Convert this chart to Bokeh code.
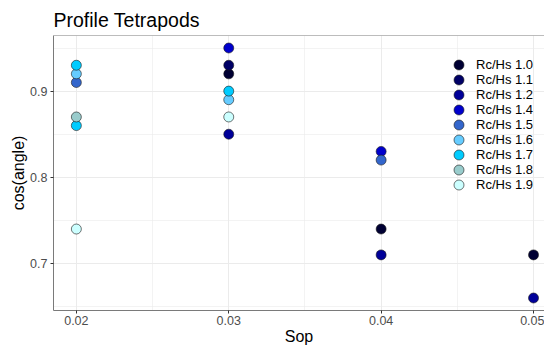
from bokeh.plotting import figure
from bokeh.models import ColumnDataSource, FixedTicker, Span, Range1d, Legend, LegendItem
from bokeh.embed import file_html
from bokeh.resources import INLINE

# Profile tetrapods: cos(angle) against wave steepness Sop, one colour per Rc/Hs
ratios = ["1.0", "1.1", "1.2", "1.4", "1.5", "1.6", "1.7", "1.8", "1.9"]
colors = ["#000033", "#000066", "#000099", "#0000CC", "#3366CC",
          "#66CCFF", "#00CCFF", "#99CCCC", "#CCFFFF"]

sop = [0.03, 0.04, 0.05,
       0.03,
       0.03, 0.04, 0.05,
       0.03, 0.04,
       0.02, 0.04,
       0.02, 0.03,
       0.02, 0.02, 0.03,
       0.02,
       0.02, 0.03]
cos_angle = [0.92, 0.74, 0.71,
             0.93,
             0.85, 0.71, 0.66,
             0.95, 0.83,
             0.91, 0.82,
             0.92, 0.89,
             0.93, 0.86, 0.90,
             0.87,
             0.74, 0.87]
rc_hs = ["1.0", "1.0", "1.0",
         "1.1",
         "1.2", "1.2", "1.2",
         "1.4", "1.4",
         "1.5", "1.5",
         "1.6", "1.6",
         "1.7", "1.7", "1.7",
         "1.8",
         "1.9", "1.9"]

x_ticks = [0.02, 0.03, 0.04, 0.05]
y_ticks = [0.7, 0.8, 0.9]

FONT = "Liberation Sans"
GRID = "#EBEBEB"
BORDER = "#7A7A7A"

p = figure(width=544, height=347, output_backend="svg", toolbar_location=None,
           x_range=Range1d(0.0185, 0.05072), y_range=Range1d(0.6455, 0.9645),
           title="Profile Tetrapods",
           min_border_left=53, min_border_right=0,
           min_border_top=35, min_border_bottom=36)

p.background_fill_color = "white"
p.border_fill_color = "white"
p.outline_line_color = None

# title
p.title.text_font = FONT
p.title.text_font_size = "19.5px"
p.title.text_font_style = "normal"
p.title.text_color = "black"
p.title.align = "left"
p.title.offset = 0

# ticks and grid lines
p.xaxis.ticker = FixedTicker(ticks=x_ticks, minor_ticks=[0.025, 0.035, 0.045])
p.yaxis.ticker = FixedTicker(ticks=y_ticks, minor_ticks=[0.65, 0.75, 0.85, 0.95])
p.xaxis.major_label_overrides = {t: f"{t:.2f}" for t in x_ticks}
p.yaxis.major_label_overrides = {t: f"{t:.1f}" for t in y_ticks}

for g in (p.xgrid, p.ygrid):
    g.grid_line_color = GRID
    g.grid_line_width = 1
    g.minor_grid_line_color = GRID
    g.minor_grid_line_width = 0.6

for ax in (p.xaxis, p.yaxis):
    ax.axis_line_color = BORDER
    ax.axis_line_width = 1
    ax.major_tick_line_color = "#333333"
    ax.major_tick_out = 3
    ax.major_tick_in = 0
    ax.minor_tick_line_color = None
    ax.major_label_text_font = FONT
    ax.major_label_text_font_size = "12.5px"
    ax.major_label_text_line_height = 1.0
    ax.major_label_text_color = "#4D4D4D"
    ax.axis_label_text_font = FONT
    ax.axis_label_text_font_size = "16px"
    ax.axis_label_text_line_height = 1.0
    ax.axis_label_text_font_style = "normal"
    ax.axis_label_text_color = "black"

p.xaxis.axis_label = "Sop"
p.yaxis.axis_label = "cos(angle)"
p.xaxis.major_label_standoff = 1
p.xaxis.axis_label_standoff = 0
p.yaxis.major_label_standoff = 2
p.yaxis.axis_label_standoff = 0

# top border of the panel
p.add_layout(Span(location=0.9645, dimension="width", line_color=BORDER, line_width=1))

# points, one renderer per Rc/Hs value
renderers = []
for r, c in zip(ratios, colors):
    xs = [x for x, k in zip(sop, rc_hs) if k == r]
    ys = [y for y, k in zip(cos_angle, rc_hs) if k == r]
    src = ColumnDataSource(dict(x=xs, y=ys))
    renderers.append(p.scatter("x", "y", source=src, size=10, fill_color=c,
                               line_color="#1a1a1a", line_width=0.6))

# legend keys stacked 15px apart, one small legend per key so the
# marker keeps its full size
ROW = 15
for i, (r, rend) in enumerate(zip(ratios, renderers)):
    lg = Legend(items=[LegendItem(label=f"Rc/Hs {r}", renderers=[rend])],
                location=(393, 233 - ROW * i),
                border_line_color=None, background_fill_alpha=0,
                padding=0, margin=0, glyph_width=25, glyph_height=25,
                label_height=25, label_standoff=5,
                label_text_font=FONT, label_text_font_size="13px",
                label_text_color="black")
    p.add_layout(lg, "center")

open("out.html", "w").write(file_html(p, INLINE))
